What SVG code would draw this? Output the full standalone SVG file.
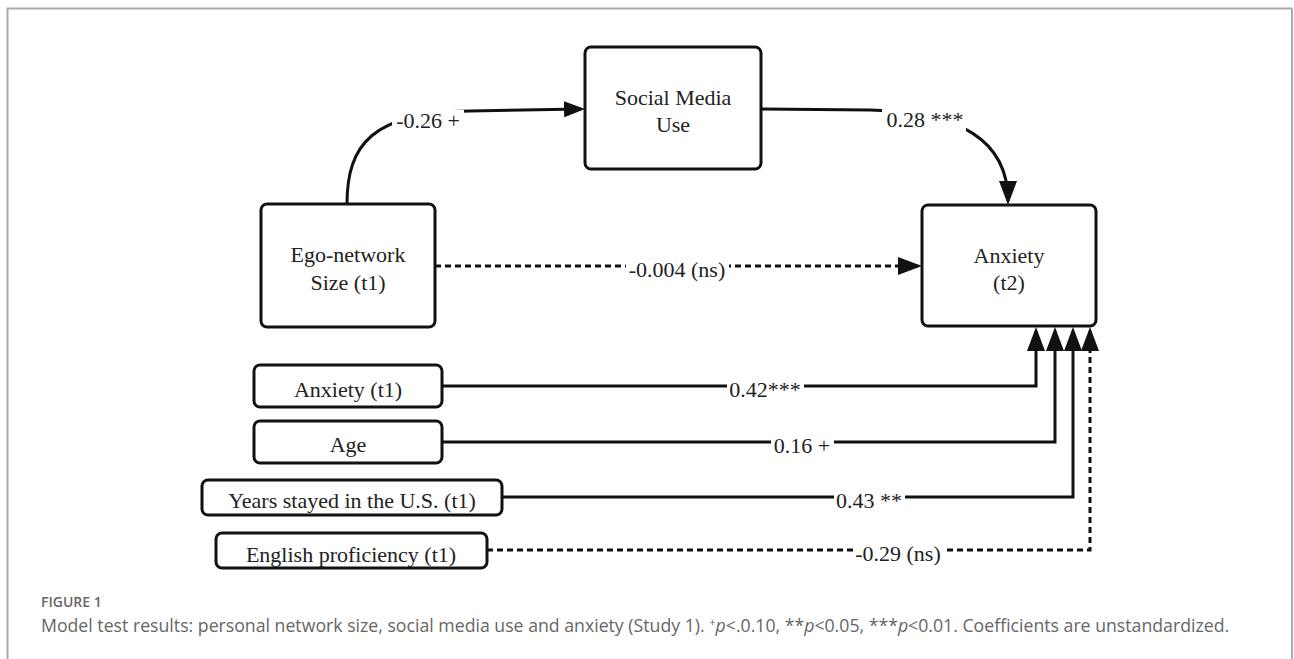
<svg xmlns="http://www.w3.org/2000/svg" width="1294" height="659" viewBox="0 0 1294 659">
  <style>
    .box { fill: #fff; stroke: #111; stroke-width: 3; }
    .lbl { font-family: "Liberation Serif", "Times New Roman", serif; font-size: 22px; fill: #222; text-anchor: middle; }
    .edge { fill: none; stroke: #111; stroke-width: 3; }
    .dash { stroke-dasharray: 6 4; }
    .bg { fill: #fff; }
    .cap { font-family: "Open Sans", "Liberation Sans", sans-serif; fill: #666; }
  </style>
  <defs>
    <marker id="ah" viewBox="0 0 24 18" refX="20" refY="9" markerWidth="24" markerHeight="18" markerUnits="userSpaceOnUse" orient="auto">
      <path d="M0,0 L24,9 L0,18 Z" fill="#111"/>
    </marker>
    <marker id="ahs" viewBox="0 0 21 16" refX="17" refY="8" markerWidth="21" markerHeight="16" markerUnits="userSpaceOnUse" orient="auto">
      <path d="M0,0 L21,8 L0,16 Z" fill="#111"/>
    </marker>
  </defs>
  <rect width="1294" height="659" fill="#fff"/>
  <path d="M7.5,670 V8.5 H1292" fill="none" stroke="#aaa" stroke-width="2"/>
  <path d="M1292,8.5 V670" fill="none" stroke="#aaa" stroke-width="2"/>

  <g id="connectors">
    <path class="edge" d="M347,204 C347,145 372,112 470,111 L581,109" marker-end="url(#ahs)"/>
    <path class="edge" d="M761,109 L870,110 C960,112 1008,140 1008,201" marker-end="url(#ah)"/>
    <path class="edge dash" d="M435,266 L918,266" marker-end="url(#ah)"/>
    <path class="edge" d="M442,386 H1036 V331" marker-end="url(#ah)"/>
    <path class="edge" d="M442,442 H1055 V331" marker-end="url(#ah)"/>
    <path class="edge" d="M502,497 H1073 V331" marker-end="url(#ah)"/>
    <path class="edge dash" d="M487,550 H1090 V331" marker-end="url(#ah)"/>

    <rect class="bg" x="392" y="110" width="72" height="26"/>
    <text class="lbl" x="428" y="128">-0.26 +</text>
    <rect class="bg" x="882" y="108" width="84" height="26"/>
    <text class="lbl" x="925" y="127">0.28 ***</text>
    <rect class="bg" x="626" y="256" width="103" height="26"/>
    <text class="lbl" x="677" y="277">-0.004 (ns)</text>
    <rect class="bg" x="727" y="376" width="77" height="26"/>
    <text class="lbl" x="765" y="397">0.42***</text>
    <rect class="bg" x="771" y="432" width="63" height="26"/>
    <text class="lbl" x="802" y="453">0.16 +</text>
    <rect class="bg" x="834" y="487" width="71" height="26"/>
    <text class="lbl" x="869" y="508">0.43 **</text>
    <rect class="bg" x="853" y="540" width="91" height="26"/>
    <text class="lbl" x="898" y="561">-0.29 (ns)</text>
  </g>

  <g id="social-media-use">
    <rect class="box" x="585" y="47" width="176" height="122" rx="6"/>
    <text class="lbl" x="673" y="105">Social Media</text>
    <text class="lbl" x="673" y="132">Use</text>
  </g>
  <g id="ego-network-size">
    <rect class="box" x="261" y="204" width="174" height="123" rx="6"/>
    <text class="lbl" x="348" y="262">Ego-network</text>
    <text class="lbl" x="348" y="290">Size (t1)</text>
  </g>
  <g id="anxiety-t2">
    <rect class="box" x="922" y="205" width="174" height="121" rx="6"/>
    <text class="lbl" x="1009" y="263">Anxiety</text>
    <text class="lbl" x="1009" y="290">(t2)</text>
  </g>
  <g id="anxiety-t1">
    <rect class="box" x="254" y="365" width="188" height="42" rx="6"/>
    <text class="lbl" x="348" y="397">Anxiety (t1)</text>
  </g>
  <g id="age">
    <rect class="box" x="254" y="421" width="188" height="42" rx="6"/>
    <text class="lbl" x="348" y="452">Age</text>
  </g>
  <g id="years-us">
    <rect class="box" x="202" y="480" width="300" height="35" rx="6"/>
    <text class="lbl" x="352" y="508">Years stayed in the U.S. (t1)</text>
  </g>
  <g id="english">
    <rect class="box" x="216" y="533" width="271" height="35" rx="6"/>
    <text class="lbl" x="351" y="562">English proficiency (t1)</text>
  </g>

  <text class="cap" x="41" y="607" font-size="14" font-weight="600" fill="#555">FIGURE 1</text>
  <text class="cap" x="41" y="632" font-size="17.7">Model test results: personal network size, social media use and anxiety (Study 1). <tspan font-size="11" dy="-6">+</tspan><tspan dy="6" font-style="italic">p</tspan>&lt;.0.10, **<tspan font-style="italic">p</tspan>&lt;0.05, ***<tspan font-style="italic">p</tspan>&lt;0.01. Coefficients are unstandardized.</text>
</svg>
